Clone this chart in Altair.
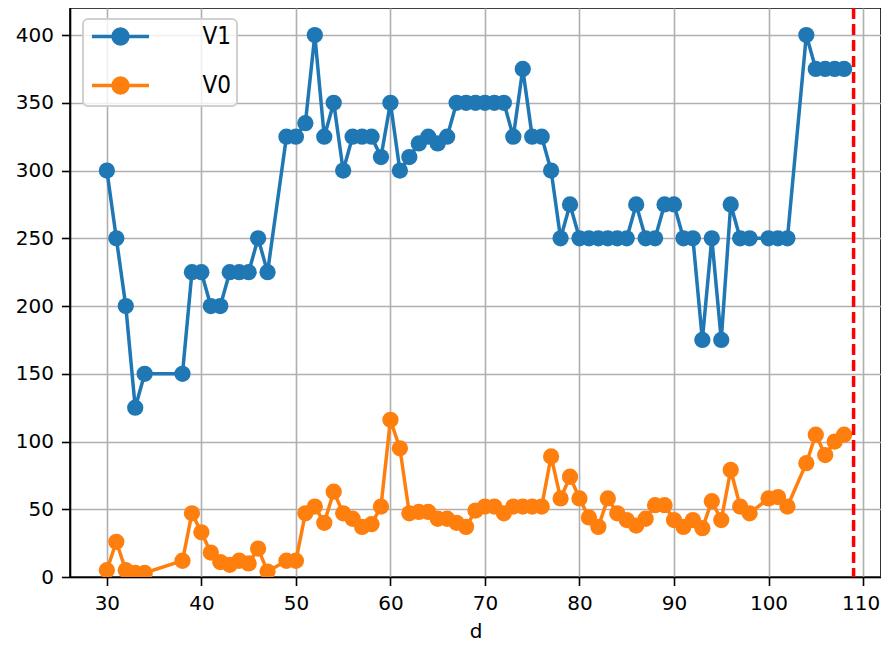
import altair as alt
import pandas as pd

# x positions (d)
d = [30, 31, 32, 33, 34,
     38, 39, 40, 41, 42, 43, 44, 45, 46, 47,
     49, 50, 51, 52, 53, 54, 55, 56, 57, 58,
     59, 60, 61, 62, 63, 64, 65, 66, 67, 68,
     69, 70, 71, 72, 73, 74, 75, 76, 77, 78,
     79, 80, 81, 82, 83, 84, 85, 86, 87, 88,
     89, 90, 91, 92, 93, 94, 95, 96, 97, 98,
     100, 101, 102,
     104, 105, 106, 107, 108]

v1 = [300, 250, 200, 125, 150,
      150, 225, 225, 200, 200, 225, 225, 225, 250, 225,
      325, 325, 335, 400, 325, 350, 300, 325, 325, 325,
      310, 350, 300, 310, 320, 325, 320, 325, 350, 350,
      350, 350, 350, 350, 325, 375, 325, 325, 300, 250,
      275, 250, 250, 250, 250, 250, 250, 275, 250, 250,
      275, 275, 250, 250, 175, 250, 175, 275, 250, 250,
      250, 250, 250,
      400, 375, 375, 375, 375]

v0 = [5, 26, 5, 3, 3,
      12, 47, 33, 18, 11, 9, 12, 10, 21, 4,
      12, 12, 47, 52, 40, 63, 47, 43, 37, 39,
      52, 116, 95, 47, 48, 48, 43, 43, 40, 37,
      49, 52, 52, 47, 52, 52, 52, 52, 89, 58,
      74, 58, 44, 37, 58, 47, 42, 38, 43, 53,
      53, 42, 37, 42, 36, 56, 42, 79, 52, 47,
      58, 59, 52,
      84, 105, 90, 100, 105]

series_names = ["V1", "V0"]
series_colors = ["#1f77b4", "#ff7f0e"]
vline_x = [109]

x_ticks = [30, 40, 50, 60, 70, 80, 90, 100, 110]
y_ticks = [0, 50, 100, 150, 200, 250, 300, 350, 400]

df = pd.concat([
    pd.DataFrame({"d": d, "value": v1, "series": "V1"}),
    pd.DataFrame({"d": d, "value": v0, "series": "V0"}),
], ignore_index=True)
vdf = pd.DataFrame({"d": vline_x})

TICK_FONT = "DejaVu Sans"
LEG_FONT = "Liberation Sans Narrow, DejaVu Sans Condensed, sans-serif"

xscale = alt.Scale(domain=[26.1, 111.9], nice=False, zero=False)
yscale = alt.Scale(domain=[0, 420], nice=False, zero=False)

xaxis = alt.Axis(
    values=x_ticks, title="d", grid=True,
    labelOffset={"condition": {"test": "datum.value >= 110", "value": -2.5}, "value": 0},
)
yaxis = alt.Axis(values=y_ticks, title=None, grid=True)

sym_path = "M-3.17,0L3.17,0M0.83,0A0.83,0.83,0,1,1,-0.83,0A0.83,0.83,0,1,1,0.83,0Z"

legend = alt.Legend(
    title=None, orient="none", legendX=13, legendY=11,
    symbolType=sym_path, symbolSize=324, symbolStrokeWidth=3.5,
    symbolOffset=20, labelOffset=70, labelFont=LEG_FONT, labelFontSize=24,
    labelColor="black", padding=5.5, rowPadding=19,
    fillColor="rgba(255,255,255,0.8)", strokeColor="#d0d0d0",
    cornerRadius=5, labelExpr="datum.label + ' '",
    symbolOpacity=1,
)

cscale = alt.Scale(domain=series_names, range=series_colors)

lines = alt.Chart(df).mark_line(strokeWidth=3.5, clip=True).encode(
    x=alt.X("d:Q", scale=xscale, axis=xaxis),
    y=alt.Y("value:Q", scale=yscale, axis=yaxis),
    stroke=alt.Stroke("series:N", scale=cscale, legend=legend),
    detail="series:N",
)

points = alt.Chart(df).mark_point(filled=True, size=265, opacity=1, strokeWidth=0, clip=True).encode(
    x=alt.X("d:Q", scale=xscale),
    y=alt.Y("value:Q", scale=yscale),
    fill=alt.Fill("series:N", scale=cscale, legend=legend),
)

vline = alt.Chart(vdf).mark_rule(color="#ff0000", strokeWidth=3.5, strokeDash=[11, 5]).encode(
    x=alt.X("d:Q", scale=xscale),
)

chart = alt.layer(lines, points, vline).properties(
    width=811, height=569,
    autosize=alt.AutoSizeParams(type="none"),
    padding={"left": 62, "top": 0, "right": 0, "bottom": 66},
).configure_view(
    stroke="black", strokeWidth=1.6,
).configure_axis(
    labelFont=TICK_FONT, labelFontSize=20, labelColor="black",
    titleFont=TICK_FONT, titleFontSize=20, titleFontWeight="normal", titleColor="black",
    tickSize=8.5, tickWidth=1.6, tickColor="black",
    domainColor="black", domainWidth=1.6,
    gridColor="#b0b0b0", gridWidth=1.6, labelPadding=8,
).configure_axisX(
    titlePadding=8,
).configure_legend(
    strokeWidth=2,
)

chart.save("out.html", embed_options={"renderer": "svg", "actions": False})
